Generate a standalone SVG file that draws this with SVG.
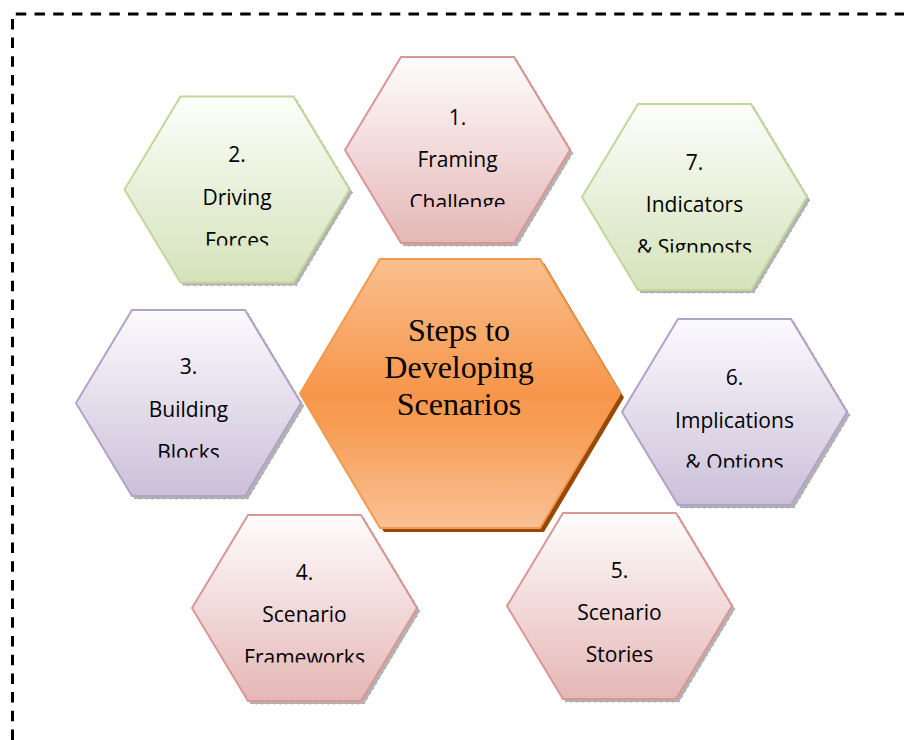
<svg xmlns="http://www.w3.org/2000/svg" width="904" height="740" viewBox="0 0 904 740">
<defs>
<linearGradient id="gRed" x1="0" y1="0" x2="0" y2="1">
<stop offset="0" stop-color="#fefdfd"/><stop offset="0.35" stop-color="#f6e4e4"/><stop offset="1" stop-color="#e4b7b6"/>
</linearGradient>
<linearGradient id="gGreen" x1="0" y1="0" x2="0" y2="1">
<stop offset="0" stop-color="#fdfefb"/><stop offset="0.35" stop-color="#eef4e3"/><stop offset="1" stop-color="#d5e3bb"/>
</linearGradient>
<linearGradient id="gPurple" x1="0" y1="0" x2="0" y2="1">
<stop offset="0" stop-color="#fbfafd"/><stop offset="0.35" stop-color="#ebe6f1"/><stop offset="1" stop-color="#cbc0d9"/>
</linearGradient>
<linearGradient id="gOrange" x1="0" y1="0" x2="0" y2="1">
<stop offset="0" stop-color="#f9bf8e"/><stop offset="0.5" stop-color="#f7964a"/><stop offset="0.62" stop-color="#f79d54"/><stop offset="1" stop-color="#f9c195"/>
</linearGradient>
<polygon id="hex" points="-112.5,0 -56.5,-93 56.5,-93 112.5,0 56.5,93 -56.5,93"/>
<clipPath id="c1"><rect x="300" y="0" width="320" height="207"/></clipPath>
<clipPath id="c2"><rect x="100" y="0" width="280" height="245.5"/></clipPath>
<clipPath id="c7"><rect x="560" y="0" width="280" height="252.5"/></clipPath>
<clipPath id="c3"><rect x="60" y="250" width="280" height="207.5"/></clipPath>
<clipPath id="c6"><rect x="600" y="250" width="280" height="217.5"/></clipPath>
<clipPath id="c4"><rect x="170" y="450" width="280" height="212.5"/></clipPath>
</defs>
<style>
.shadow{fill:#b3b3b3;stroke:#7f7f7f;stroke-width:1;stroke-dasharray:1 5}
.red{fill:url(#gRed);stroke:#d99694;stroke-width:2}
.green{fill:url(#gGreen);stroke:#c3d69b;stroke-width:2}
.purple{fill:url(#gPurple);stroke:#b3a2c7;stroke-width:2}
.lbl{font-family:"Open Sans","Noto Sans","DejaVu Sans",sans-serif;font-size:21px;fill:#000;text-anchor:middle}
.title{font-family:"Liberation Serif","Times New Roman",serif;font-size:32px;fill:#000;text-anchor:middle}
</style>
<rect width="904" height="740" fill="#fff"/>
<path d="M12.5,740 V14 H904" fill="none" stroke="#000" stroke-width="3" stroke-dasharray="10.5 8.2"/>
<g id="connectors"></g>

<g id="center">
<polygon points="304,397.5 384,263 544,263 624,397.5 544,532 384,532" fill="#984807"/>
<polygon points="300,393.5 380,259 540,259 620,393.5 540,528 380,528" fill="url(#gOrange)" stroke="#f39a4f" stroke-width="2"/>
<text class="title" x="459" y="341">Steps to</text>
<text class="title" x="459" y="378">Developing</text>
<text class="title" x="459" y="415">Scenarios</text>
</g>

<g id="step1">
<use href="#hex" class="shadow" transform="translate(460.5,153)"/>
<use href="#hex" class="red" transform="translate(457.5,150)"/>
<g clip-path="url(#c1)">
<text class="lbl" x="457.5" y="124.5">1.</text>
<text class="lbl" x="457.5" y="167">Framing</text>
<text class="lbl" x="457.5" y="209.5">Challenge</text>
</g>
</g>

<g id="step2">
<use href="#hex" class="shadow" transform="translate(240,192.5)"/>
<use href="#hex" class="green" transform="translate(237,189.5)"/>
<g clip-path="url(#c2)">
<text class="lbl" x="237" y="161.5">2.</text>
<text class="lbl" x="237" y="205">Driving</text>
<text class="lbl" x="237" y="247.5">Forces</text>
</g>
</g>

<g id="step7">
<use href="#hex" class="shadow" transform="translate(697.5,200)"/>
<use href="#hex" class="green" transform="translate(694.5,197)"/>
<g clip-path="url(#c7)">
<text class="lbl" x="694.5" y="170">7.</text>
<text class="lbl" x="694.5" y="212">Indicators</text>
<text class="lbl" x="694.5" y="254.5">&amp; Signposts</text>
</g>
</g>

<g id="step3">
<use href="#hex" class="shadow" transform="translate(191.5,406)"/>
<use href="#hex" class="purple" transform="translate(188.5,403)"/>
<g clip-path="url(#c3)">
<text class="lbl" x="188.5" y="374">3.</text>
<text class="lbl" x="188.5" y="417">Building</text>
<text class="lbl" x="188.5" y="459.5">Blocks</text>
</g>
</g>

<g id="step6">
<use href="#hex" class="shadow" transform="translate(737.5,415)"/>
<use href="#hex" class="purple" transform="translate(734.5,412)"/>
<g clip-path="url(#c6)">
<text class="lbl" x="734.5" y="385">6.</text>
<text class="lbl" x="734.5" y="428">Implications</text>
<text class="lbl" x="734.5" y="470">&amp; Options</text>
</g>
</g>

<g id="step4">
<use href="#hex" class="shadow" transform="translate(307.5,611)"/>
<use href="#hex" class="red" transform="translate(304.5,608)"/>
<g clip-path="url(#c4)">
<text class="lbl" x="304.5" y="580">4.</text>
<text class="lbl" x="304.5" y="622">Scenario</text>
<text class="lbl" x="304.5" y="664.5">Frameworks</text>
</g>
</g>

<g id="step5">
<use href="#hex" class="shadow" transform="translate(622.5,609)"/>
<use href="#hex" class="red" transform="translate(619.5,606)"/>
<text class="lbl" x="619.5" y="578">5.</text>
<text class="lbl" x="619.5" y="620">Scenario</text>
<text class="lbl" x="619.5" y="662">Stories</text>
</g>
</svg>
